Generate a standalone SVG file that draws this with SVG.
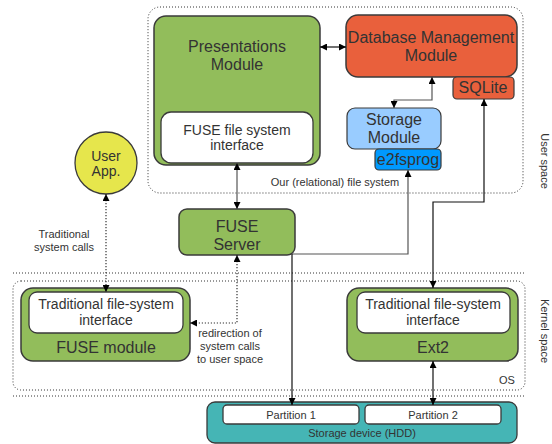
<svg xmlns="http://www.w3.org/2000/svg" width="552" height="444" viewBox="0 0 552 444">
<style>
text{font-family:"Liberation Sans",Arial,sans-serif;fill:#333;text-anchor:middle}
.b{font-size:16px}.m{font-size:14px}.s{font-size:11px}
.green{fill:#92bd5b;stroke:#3a3a3a;stroke-width:1.5}
.white{fill:#fff;stroke:#3a3a3a;stroke-width:1.3}
.dots{fill:none;stroke:#333;stroke-width:1;stroke-dasharray:1,2}
.c{fill:none;stroke:#111;stroke-width:1.2}
.cg{fill:none;stroke:#555;stroke-width:1.2}
.cd{fill:none;stroke:#333;stroke-width:1.2;stroke-dasharray:1.2,1.8}
</style>
<defs>
<marker id="ah" viewBox="0 0 7 7" refX="7" refY="3.5" markerWidth="7" markerHeight="7" markerUnits="userSpaceOnUse" orient="auto-start-reverse"><path d="M0,0L7,3.5L0,7z" fill="#000"/></marker>
</defs>
<g id="regions">
<rect x="148" y="7" width="375" height="186" rx="12" class="dots"/>
<text class="s" x="335" y="186">Our (relational) file system</text>
<line x1="13" y1="273" x2="525" y2="273" class="dots"/>
<line x1="13" y1="396" x2="525" y2="396" class="dots"/>
<rect x="13" y="281" width="512" height="109" rx="8" class="dots"/>
<text class="s" x="507" y="384">OS</text>
<text class="s" transform="translate(541,161) rotate(90)">User space</text>
<text class="s" transform="translate(541,331) rotate(90)">Kernel space</text>
</g>
<g id="presentations">
<rect x="154" y="16" width="166" height="149" rx="12" class="green"/>
<text class="b" x="237" y="52">Presentations</text>
<text class="b" x="237" y="70">Module</text>
<g id="fuse-fs-interface">
<rect x="161" y="112" width="152" height="51" rx="10" class="white"/>
<text class="m" x="237" y="135">FUSE file system</text>
<text class="m" x="237" y="150">interface</text>
</g>
</g>
<g id="dbm">
<rect x="346" y="15" width="171" height="62" rx="12" fill="#e9603c" stroke="#3a3a3a" stroke-width="1.5"/>
<text class="b" x="431" y="43">Database Management</text>
<text class="b" x="431" y="61">Module</text>
</g>
<g id="sqlite">
<rect x="453" y="77" width="61" height="22" rx="4" fill="#e9603c" stroke="#3a3a3a" stroke-width="1.2"/>
<text class="b" x="483" y="93">SQLite</text>
</g>
<g id="storage">
<rect x="347" y="108" width="94" height="41" rx="8" fill="#99ccff" stroke="#3a3a3a" stroke-width="1.2"/>
<text class="b" x="394" y="125">Storage</text>
<text class="b" x="394" y="143">Module</text>
</g>
<g id="e2fsprog">
<rect x="375" y="149" width="66" height="21" rx="4" fill="#0099ff" stroke="#3a3a3a" stroke-width="1.2"/>
<text class="b" x="408" y="165">e2fsprog</text>
</g>
<g id="userapp">
<circle cx="106" cy="163" r="31" fill="#e6e64c" stroke="#3a3a3a" stroke-width="1.3"/>
<text class="m" x="106" y="161">User</text>
<text class="m" x="106" y="176">App.</text>
</g>
<text class="s" x="64" y="238">Traditional</text>
<text class="s" x="64" y="251">system calls</text>
<g id="fuseserver">
<rect x="179" y="209" width="116" height="46" rx="8" class="green"/>
<text class="b" x="237" y="232">FUSE</text>
<text class="b" x="237" y="250">Server</text>
</g>
<g id="fusemodule">
<rect x="21" y="288" width="169" height="73" rx="12" class="green"/>
<rect x="29" y="292" width="154" height="41" rx="8" class="white"/>
<text class="m" x="106" y="309">Traditional file-system</text>
<text class="m" x="106" y="325">interface</text>
<text class="b" x="106" y="353">FUSE module</text>
</g>
<text class="s" x="230" y="337">redirection of</text>
<text class="s" x="230" y="350">system calls</text>
<text class="s" x="230" y="363">to user space</text>
<g id="ext2">
<rect x="347" y="288" width="171" height="73" rx="12" class="green"/>
<rect x="357" y="292" width="153" height="41" rx="8" class="white"/>
<text class="m" x="433" y="309">Traditional file-system</text>
<text class="m" x="433" y="325">interface</text>
<text class="b" x="433" y="353">Ext2</text>
</g>
<g id="hdd">
<rect x="207" y="402" width="310" height="41" rx="8" fill="#45b5b5" stroke="#3a3a3a" stroke-width="1.3"/>
<rect x="223" y="405" width="136" height="19" rx="4" class="white"/>
<rect x="365" y="405" width="136" height="19" rx="4" class="white"/>
<text class="s" x="291" y="419">Partition 1</text>
<text class="s" x="433" y="419">Partition 2</text>
<text class="s" x="362" y="437">Storage device (HDD)</text>
</g>
<g id="connectors">
<path d="M320,47H346" class="c" marker-start="url(#ah)" marker-end="url(#ah)"/>
<path d="M237,163V209" class="cg" marker-start="url(#ah)" marker-end="url(#ah)"/>
<path d="M432,77V100H394V108" class="cg" marker-start="url(#ah)" marker-end="url(#ah)"/>
<path d="M484,99V202H433V288" class="c" marker-start="url(#ah)" marker-end="url(#ah)"/>
<path d="M292,254H408V170" class="cg" marker-end="url(#ah)"/>
<path d="M292,254V405" class="c" marker-end="url(#ah)"/>
<path d="M433,361V405" class="c" marker-start="url(#ah)" marker-end="url(#ah)"/>
<path d="M106,194V292" class="cd" marker-start="url(#ah)" marker-end="url(#ah)"/>
<path d="M237,255V323H190" class="cd" marker-start="url(#ah)" marker-end="url(#ah)"/>
</g>
</svg>
